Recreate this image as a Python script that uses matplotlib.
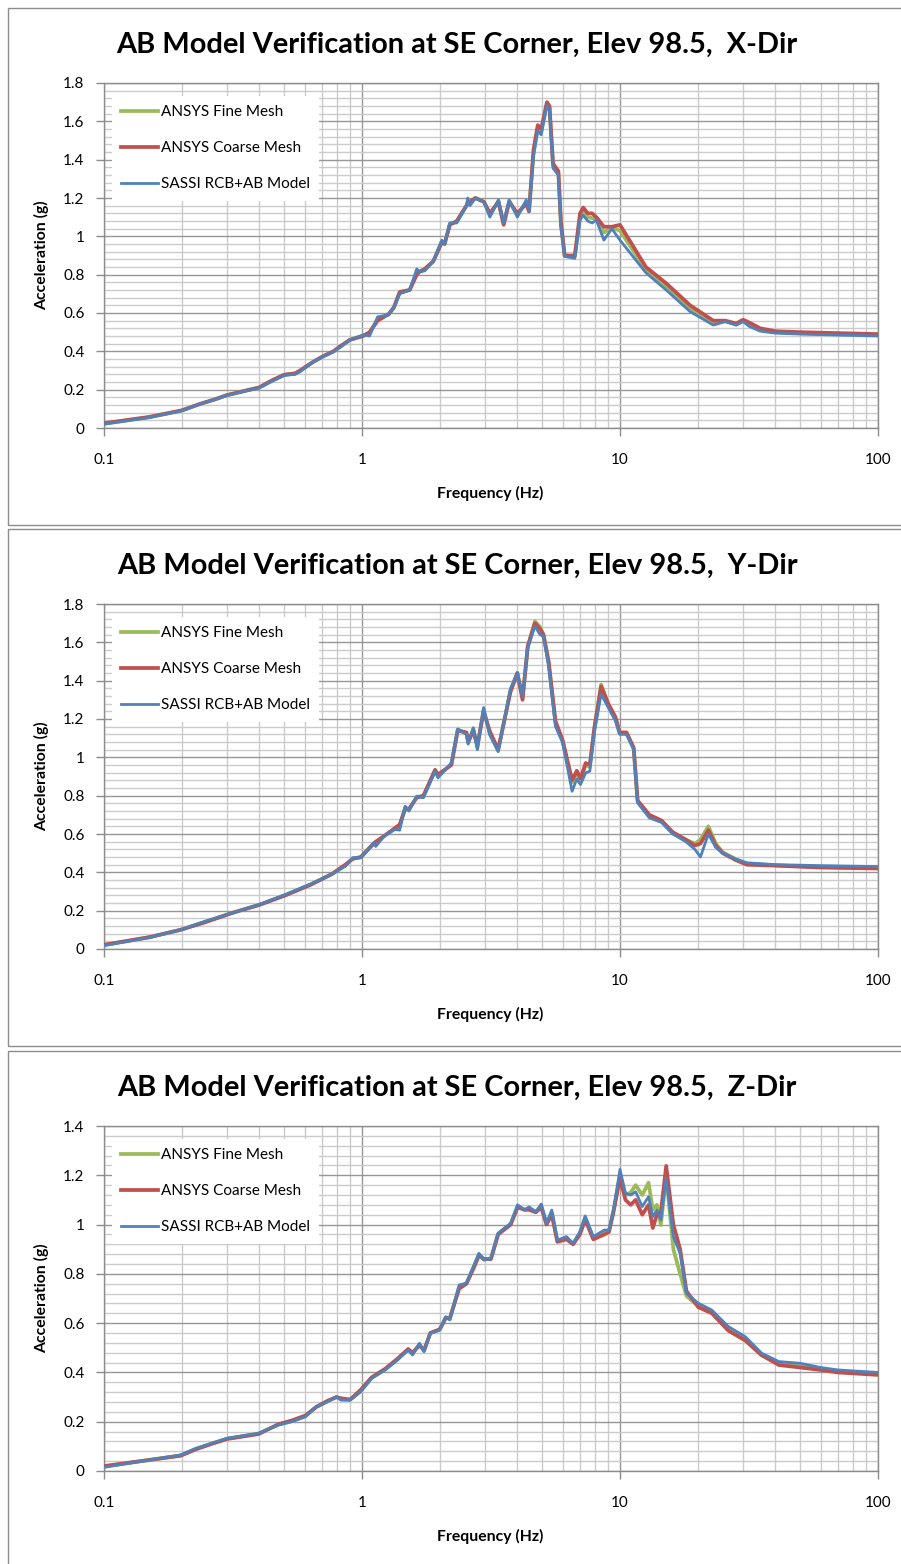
import math
import matplotlib
matplotlib.use('Agg')
import matplotlib.pyplot as plt
from matplotlib.ticker import MultipleLocator, FixedLocator, NullFormatter, FuncFormatter
from matplotlib.patches import Rectangle

# ---------------- DATA ----------------
series_names = ["ANSYS Fine Mesh", "ANSYS Coarse Mesh", "SASSI RCB+AB Model"]
titles = ["AB Model Verification at SE Corner, Elev 98.5,  X-Dir",
          "AB Model Verification at SE Corner, Elev 98.5,  Y-Dir",
          "AB Model Verification at SE Corner, Elev 98.5,  Z-Dir"]
x_tick_labels = ["0.1", "1", "10", "100"]

x_freq = [0.1, 0.15, 0.2, 0.235, 0.27, 0.3, 0.4, 0.45, 0.5, 0.55,
          0.575, 0.647, 0.707, 0.775, 0.82, 0.898, 1.01, 1.07, 1.15, 1.27,
          1.33, 1.40, 1.53, 1.63, 1.67, 1.75, 1.89, 2.04, 2.09, 2.19,
          2.33, 2.54, 2.57, 2.62, 2.75, 2.97, 3.13, 3.38, 3.54, 3.72,
          4.0, 4.33, 4.44, 4.62, 4.8, 4.95, 5.21, 5.33, 5.5, 5.77,
          5.9, 6.1, 6.68, 7.0, 7.2, 7.5, 7.8, 8.1, 8.66, 9.3,
          10.0, 12.6, 15.1, 18.7, 23.0, 25.6, 28.2, 30.0, 31.7, 35,
          40, 50, 70, 100]
x_blue = [0.02, 0.055, 0.09, 0.125, 0.15, 0.17, 0.21, 0.245, 0.275, 0.28,
          0.294, 0.346, 0.372, 0.398, 0.42, 0.459, 0.485, 0.48, 0.58, 0.59,
          0.63, 0.70, 0.72, 0.83, 0.815, 0.82, 0.87, 0.98, 0.96, 1.07,
          1.07, 1.16, 1.20, 1.16, 1.20, 1.18, 1.10, 1.19, 1.07, 1.19,
          1.10, 1.19, 1.13, 1.42, 1.55, 1.53, 1.685, 1.66, 1.355, 1.32,
          1.05, 0.895, 0.885, 1.085, 1.11, 1.08, 1.07, 1.085, 0.98, 1.04,
          0.98, 0.81, 0.72, 0.607, 0.537, 0.555, 0.537, 0.555, 0.53, 0.505,
          0.495, 0.49, 0.485, 0.48]
x_red = [0.025, 0.058, 0.092, 0.125, 0.15, 0.172, 0.212, 0.25, 0.278, 0.285,
         0.30, 0.345, 0.375, 0.40, 0.425, 0.46, 0.48, 0.50, 0.56, 0.595,
         0.63, 0.71, 0.72, 0.80, 0.815, 0.83, 0.87, 0.97, 0.96, 1.06,
         1.08, 1.16, 1.17, 1.18, 1.20, 1.18, 1.12, 1.18, 1.06, 1.18,
         1.12, 1.17, 1.13, 1.45, 1.58, 1.56, 1.70, 1.68, 1.38, 1.34,
         1.08, 0.90, 0.90, 1.12, 1.15, 1.12, 1.12, 1.10, 1.05, 1.05,
         1.06, 0.84, 0.755, 0.64, 0.56, 0.56, 0.545, 0.565, 0.55, 0.52,
         0.505, 0.50, 0.495, 0.49]
x_green = [0.022, 0.056, 0.09, 0.125, 0.15, 0.171, 0.211, 0.248, 0.277, 0.283,
           0.297, 0.345, 0.373, 0.399, 0.422, 0.46, 0.482, 0.495, 0.57, 0.593,
           0.63, 0.705, 0.72, 0.81, 0.815, 0.825, 0.87, 0.975, 0.96, 1.065,
           1.075, 1.16, 1.18, 1.17, 1.20, 1.18, 1.11, 1.185, 1.065, 1.185,
           1.11, 1.18, 1.13, 1.43, 1.565, 1.545, 1.69, 1.67, 1.37, 1.33,
           1.06, 0.90, 0.895, 1.10, 1.13, 1.10, 1.095, 1.09, 1.02, 1.045,
           1.03, 0.825, 0.74, 0.625, 0.55, 0.557, 0.54, 0.56, 0.54, 0.512,
           0.50, 0.495, 0.49, 0.485]

y_freq = [0.1, 0.15, 0.198, 0.247, 0.317, 0.4, 0.505, 0.632, 0.762, 0.862,
          0.92, 0.99, 1.11, 1.13, 1.22, 1.34, 1.40, 1.47, 1.52, 1.63,
          1.73, 1.92, 1.97, 2.22, 2.35, 2.54, 2.58, 2.7, 2.8, 2.96,
          3.12, 3.37, 3.76, 4.0, 4.19, 4.39, 4.68, 4.9, 5.05, 5.29,
          5.62, 5.99, 6.52, 6.8, 7.03, 7.36, 7.64, 7.95, 8.45, 9.0,
          9.6, 9.97, 10.6, 11.3, 11.7, 13.0, 14.5, 16, 18, 19.5,
          20.5, 22, 23.5, 25, 28, 31, 40, 60, 100]
y_blue = [0.018, 0.06, 0.10, 0.145, 0.189, 0.232, 0.284, 0.339, 0.389, 0.432,
          0.476, 0.476, 0.554, 0.535, 0.589, 0.624, 0.62, 0.745, 0.72, 0.797,
          0.789, 0.928, 0.893, 0.971, 1.148, 1.12, 1.069, 1.154, 1.04, 1.26,
          1.12, 1.03, 1.356, 1.44, 1.319, 1.571, 1.684, 1.64, 1.63, 1.475,
          1.162, 1.077, 0.823, 0.887, 0.858, 0.919, 0.928, 1.128, 1.33, 1.26,
          1.19, 1.12, 1.12, 1.04, 0.763, 0.684, 0.66, 0.60, 0.56, 0.52,
          0.48, 0.60, 0.53, 0.50, 0.47, 0.45, 0.44, 0.435, 0.43]
y_red = [0.022, 0.062, 0.10, 0.14, 0.19, 0.23, 0.28, 0.335, 0.39, 0.44,
         0.47, 0.48, 0.55, 0.56, 0.59, 0.63, 0.65, 0.73, 0.73, 0.79,
         0.80, 0.935, 0.91, 0.96, 1.14, 1.13, 1.08, 1.14, 1.06, 1.24,
         1.14, 1.04, 1.34, 1.44, 1.30, 1.58, 1.70, 1.67, 1.64, 1.50,
         1.19, 1.09, 0.88, 0.93, 0.89, 0.97, 0.96, 1.15, 1.37, 1.28,
         1.21, 1.13, 1.13, 1.05, 0.775, 0.70, 0.67, 0.61, 0.57, 0.54,
         0.55, 0.62, 0.54, 0.50, 0.465, 0.44, 0.435, 0.425, 0.42]
y_green = [0.02, 0.061, 0.10, 0.142, 0.19, 0.231, 0.282, 0.337, 0.39, 0.436,
           0.473, 0.478, 0.552, 0.55, 0.59, 0.627, 0.64, 0.74, 0.725, 0.795,
           0.795, 0.93, 0.90, 0.965, 1.145, 1.125, 1.075, 1.15, 1.05, 1.25,
           1.13, 1.035, 1.35, 1.44, 1.31, 1.575, 1.71, 1.68, 1.64, 1.49,
           1.18, 1.085, 0.87, 0.92, 0.88, 0.96, 0.95, 1.15, 1.38, 1.28,
           1.20, 1.125, 1.125, 1.045, 0.77, 0.69, 0.665, 0.605, 0.57, 0.55,
           0.57, 0.64, 0.55, 0.505, 0.47, 0.445, 0.437, 0.428, 0.425]

z_freq = [0.1, 0.198, 0.227, 0.261, 0.30, 0.397, 0.475, 0.534, 0.603, 0.665,
          0.736, 0.796, 0.83, 0.9, 0.99, 1.09, 1.23, 1.37, 1.51, 1.57,
          1.67, 1.74, 1.84, 2.0, 2.11, 2.19, 2.38, 2.54, 2.7, 2.84,
          2.97, 3.16, 3.37, 3.77, 4.01, 4.27, 4.44, 4.72, 4.95, 5.19,
          5.44, 5.72, 6.2, 6.58, 6.99, 7.33, 7.88, 8.7, 9.06, 9.43,
          10.0, 10.5, 11.0, 11.5, 12.2, 12.9, 13.4, 13.9, 14.4, 15.1,
          16.1, 17.1, 18.1, 20.1, 22.7, 26.3, 30.6, 35.4, 41.3, 50,
          60, 70, 100]
z_blue = [0.015, 0.065, 0.092, 0.112, 0.133, 0.153, 0.187, 0.20, 0.22, 0.261,
          0.281, 0.301, 0.288, 0.288, 0.322, 0.376, 0.41, 0.45, 0.491, 0.471,
          0.518, 0.484, 0.559, 0.572, 0.626, 0.613, 0.755, 0.762, 0.829, 0.883,
          0.856, 0.863, 0.965, 1.005, 1.08, 1.059, 1.072, 1.052, 1.083, 1.005,
          1.059, 0.937, 0.951, 0.924, 0.971, 1.035, 0.951, 0.978, 0.978, 1.059,
          1.224, 1.127, 1.12, 1.133, 1.073, 1.113, 1.032, 1.059, 1.019, 1.188,
          0.951, 0.883, 0.721, 0.681, 0.653, 0.586, 0.545, 0.478, 0.444, 0.437,
          0.42, 0.41, 0.40]
z_red = [0.02, 0.062, 0.088, 0.11, 0.13, 0.15, 0.19, 0.205, 0.225, 0.26,
         0.285, 0.30, 0.295, 0.29, 0.33, 0.38, 0.415, 0.455, 0.495, 0.48,
         0.51, 0.49, 0.56, 0.575, 0.62, 0.62, 0.74, 0.76, 0.82, 0.875,
         0.86, 0.86, 0.96, 1.00, 1.07, 1.06, 1.06, 1.05, 1.07, 1.00,
         1.04, 0.93, 0.94, 0.92, 0.96, 1.02, 0.94, 0.96, 0.97, 1.05,
         1.19, 1.10, 1.08, 1.10, 1.04, 1.08, 0.986, 1.04, 1.05, 1.238,
         1.0, 0.90, 0.73, 0.665, 0.64, 0.57, 0.53, 0.47, 0.43, 0.42,
         0.41, 0.40, 0.39]
z_green = [0.018, 0.063, 0.09, 0.111, 0.131, 0.152, 0.188, 0.202, 0.222, 0.26,
           0.283, 0.30, 0.29, 0.289, 0.325, 0.378, 0.412, 0.452, 0.493, 0.475,
           0.515, 0.487, 0.56, 0.573, 0.623, 0.617, 0.748, 0.761, 0.825, 0.879,
           0.858, 0.862, 0.963, 1.003, 1.075, 1.06, 1.066, 1.051, 1.078, 1.003,
           1.05, 0.933, 0.945, 0.922, 0.965, 1.028, 0.945, 0.97, 0.974, 1.055,
           1.20, 1.12, 1.13, 1.16, 1.12, 1.17, 1.06, 1.08, 0.998, 1.20,
           0.90, 0.80, 0.71, 0.67, 0.645, 0.57, 0.53, 0.47, 0.435, 0.425,
           0.415, 0.405, 0.395]

y_max = [1.8, 1.8, 1.4]

# ---------------- STYLE / LAYOUT ----------------
W, H = 901, 1564
plt.rcParams['font.family'] = ['Lato', 'DejaVu Sans']
fig = plt.figure(figsize=(W / 100, H / 100), dpi=100)

c_green, c_red, c_blue = '#9BBB59', '#C0504D', '#4F81BD'
major_grid = '#969696'
minor_grid = '#cbcbcb'
txt = '#000000'

panel_offsets = [0, 521, 1043]
ax_left, ax_right = 104, 878
ax_top0, ax_bot0 = 83, 428
data = [(x_freq, x_green, x_red, x_blue),
        (y_freq, y_green, y_red, y_blue),
        (z_freq, z_green, z_red, z_blue)]

title_texts = []
for i in range(3):
    off = panel_offsets[i]
    top_b = 8 + off
    bot_b = (525 + off) if i < 2 else H + 5
    fig.patches.append(Rectangle((8 / W, 1 - bot_b / H), (W + 20) / W, (bot_b - top_b) / H,
                                 transform=fig.transFigure, fill=False,
                                 edgecolor='#8c8c8c', lw=1.0))
    top = ax_top0 + off
    bot = ax_bot0 + off
    ax = fig.add_axes([ax_left / W, 1 - bot / H, (ax_right - ax_left) / W, (bot - top) / H])
    f, g, r, b = data[i]
    ax.plot(f, g, color=c_green, lw=2.7, label=series_names[0], solid_joinstyle='round', zorder=3)
    ax.plot(f, r, color=c_red, lw=2.7, label=series_names[1], solid_joinstyle='round', zorder=4)
    ax.plot(f, b, color=c_blue, lw=2.0, label=series_names[2], solid_joinstyle='round', zorder=5)
    ax.set_xscale('log')
    ax.set_xlim(0.1, 100)
    ax.set_ylim(0, y_max[i])
    ax.xaxis.set_major_locator(FixedLocator([0.1, 1, 10, 100]))
    ax.xaxis.set_major_formatter(FuncFormatter(lambda v, p: x_tick_labels[int(round(math.log10(v))) + 1]))
    minors = [m * 10.0 ** d for d in (-1, 0, 1) for m in range(2, 10)]
    ax.xaxis.set_minor_locator(FixedLocator(minors))
    ax.xaxis.set_minor_formatter(NullFormatter())
    ax.yaxis.set_major_locator(MultipleLocator(0.2))
    ax.yaxis.set_minor_locator(MultipleLocator(0.04))
    ax.yaxis.set_major_formatter(FuncFormatter(lambda v, p: ('%g' % round(v, 2))))
    ax.grid(which='major', color=major_grid, lw=1.0, zorder=0)
    ax.grid(which='minor', color=minor_grid, lw=1.0, zorder=0)
    ax.set_axisbelow(True)
    for s in ax.spines.values():
        s.set_color('#8c8c8c')
        s.set_linewidth(1.0)
    ax.tick_params(which='major', axis='y', length=6, width=1, color='#8c8c8c',
                   labelsize=11, labelcolor=txt, pad=8)
    ax.tick_params(which='major', axis='x', length=6, width=1, color='#8c8c8c',
                   labelsize=11, labelcolor=txt, pad=12)
    ax.tick_params(which='minor', length=0)
    leg = ax.legend(loc='upper left', bbox_to_anchor=((112 - ax_left) / (ax_right - ax_left),
                                                       1 - (96 - ax_top0) / (ax_bot0 - ax_top0)),
                    borderaxespad=0, frameon=True, fancybox=False, fontsize=11,
                    handlelength=2.4, handletextpad=0.2, labelspacing=1.45,
                    borderpad=0.6)
    leg.get_frame().set_facecolor('white')
    leg.get_frame().set_edgecolor('none')
    leg.get_frame().set_alpha(1.0)
    for t in leg.get_texts():
        t.set_color(txt)
    t = fig.text(457 / W, 1 - (45 + off) / H, titles[i], ha='center', va='center',
                 fontsize=19, fontweight='bold', color=txt)
    title_texts.append(t)
    fig.text(490 / W, 1 - (493 + off) / H, 'Frequency (Hz)', ha='center', va='center',
             fontsize=11.3, fontweight='bold', color=txt)
    fig.text(42 / W, 1 - ((top + bot) / 2) / H, 'Acceleration (g)', ha='center', va='center',
             rotation=90, fontsize=11.3, fontweight='bold', color=txt)

# fit title widths to reference (~678 px)
fig.canvas.draw()
rend = fig.canvas.get_renderer()
for t in title_texts:
    w = t.get_window_extent(rend).width
    t.set_fontsize(t.get_fontsize() * 678.0 / w)

fig.savefig('out.png', dpi=100, facecolor='white')
